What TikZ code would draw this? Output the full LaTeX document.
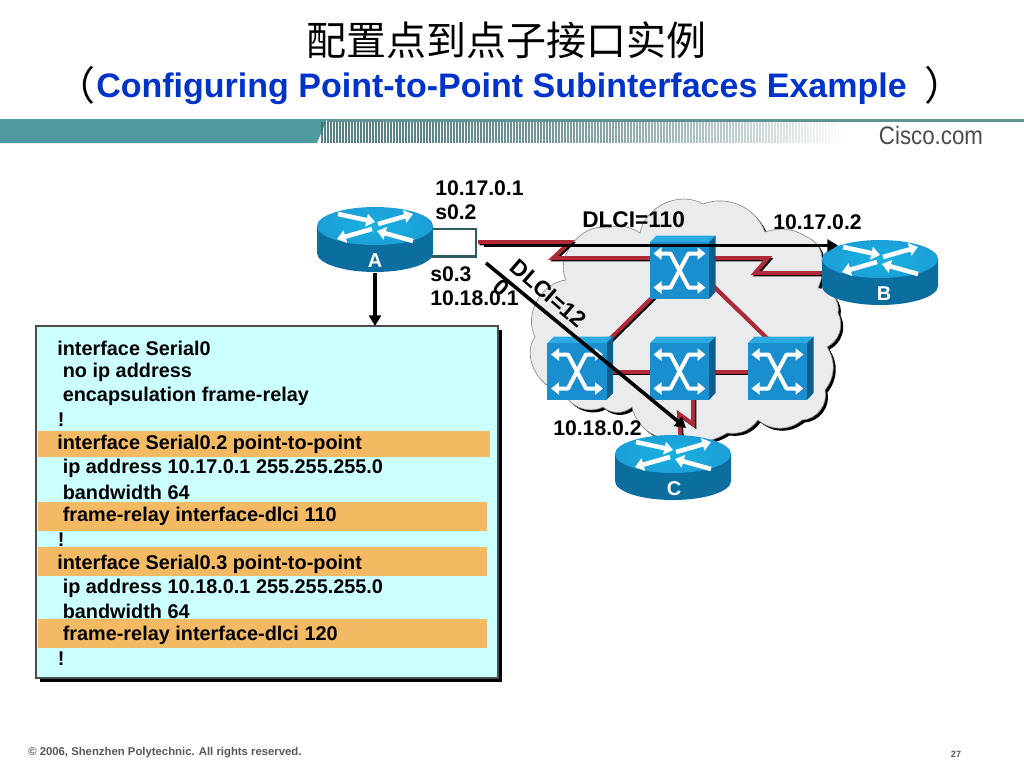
\documentclass[tikz,border=0pt]{standalone}
\usepackage{fontspec}
\setmainfont{Liberation Sans}
\newfontfamily\cjkfont{Noto Sans CJK SC}
\usetikzlibrary{arrows.meta,calc}
\definecolor{teal1}{HTML}{4F9A9F}
\definecolor{cboxfill}{HTML}{CCFFFF}
\definecolor{orangeband}{HTML}{F4B963}
\definecolor{redlink}{HTML}{B0293A}
\definecolor{cloudfill}{HTML}{E9EBED}
\definecolor{titleblue}{HTML}{0033CC}
\definecolor{rtop}{HTML}{1C9FD8}
\definecolor{rside}{HTML}{0F86BA}
\definecolor{rdark}{HTML}{0C6E9E}
\definecolor{swfront}{HTML}{1A8FCF}
\definecolor{swtop}{HTML}{2BABE3}
\definecolor{swside}{HTML}{0D5E8C}
\tikzset{
  lbl/.style={font=\bfseries\fontsize{15.9}{18}\selectfont,inner sep=0pt,text=black},
  dl/.style={font=\bfseries\fontsize{17}{19}\selectfont,inner sep=0pt,text=black},
  cfg/.style={font=\bfseries\fontsize{14.9}{18}\selectfont,inner sep=0pt,anchor=west,text=black},
  band/.style={fill=orangeband,draw=none},
  redlinkline/.style={draw=redlink,line width=3pt,miter limit=10,
     preaction={draw=black,line width=2.6pt,transform canvas={shift={(1.2pt,-1.3pt)}}}},
  blackarrow/.style={draw=black,line width=2.7pt,-{Triangle[length=8pt,width=9pt]}},
  routerbody/.style={minimum width=87pt,minimum height=49pt,inner sep=0pt,draw=none},
  routerlabel/.style={font=\bfseries\fontsize{15}{18}\selectfont,text=white,inner sep=0pt},
  swbody/.style={minimum width=44.5pt,minimum height=43pt,inner sep=0pt,draw=none,fill=swfront},
  iconarrow/.style={draw=white,line width=3.4pt,-{Triangle[length=6.5pt,width=9.5pt]}},
  swarrow/.style={draw=white,line width=3pt,{Triangle[length=6pt,width=9pt]}-{Triangle[length=6pt,width=9pt]},line join=round},
}
\newcommand{\routerpic}[5]{% name, x, y(top ellipse centre), label, label dx
  \begin{scope}[shift={(#2,#3)}]
    \shade[left color=rdark,middle color=rside,right color=rdark] (0,27) ellipse [x radius=58,y radius=19];
    \shade[left color=rdark,middle color=rside,right color=rdark] (-58,0) rectangle (58,27);
    \shade[inner color=rtop!80!cyan,outer color=rtop] (0,0) ellipse [x radius=58,y radius=19];
    \draw[iconarrow] (-37,-12) -- (0,-4);
    \draw[iconarrow] (3,-2) -- (38,-12);
    \draw[iconarrow] (-3,3) -- (-38,13);
    \draw[iconarrow] (38,15) -- (2,5);
    \node[routerbody] (#1) at (0,14) {};
    \node[routerlabel] (#1label) at (#5,34.5) {#4};
  \end{scope}
}
\newcommand{\switchpic}[3]{% name, x, y (centre of front)
  \begin{scope}[shift={(#2,#3)}]
    \fill[swtop] (-29.5,-28.5) -- (-23,-35) -- (36,-35) -- (29.5,-28.5) -- cycle;
    \fill[swside] (29.5,-28.5) -- (36,-35) -- (36,21.5) -- (29.5,28.5) -- cycle;
    \node[swbody] (#1) at (0,0) {};
    \draw[swarrow] (-26,-17) -- (-9,-17) -- (9,17) -- (26,17);
    \draw[swarrow] (26,-17) -- (9,-17) -- (-9,17) -- (-26,17);
  \end{scope}
}
\newcommand{\cloudpath}{
  (566,280) to[bend left=65] (607,228) to[bend left=25] (640,233) to[bend left=55] (703,204)
  to[bend left=45] (765,232) to[bend left=25] (807,237) to[bend left=35] (822,262)
  to[bend left=15] (818,288) to[bend left=50] (838,313) to[bend left=45] (827,347)
  to[bend left=35] (825,390) to[bend left=50] (802,420) to[bend left=40] (758,420)
  to[bend left=30] (727,433) to[bend left=25] (680,438) to[bend left=45] (632,407)
  to[bend left=40] (603,407) to[bend left=50] (563,390) to[bend left=65] (535,337)
  to[bend left=55] (566,280) -- cycle}
\begin{document}
\begin{tikzpicture}[x=0.75pt,y=-0.75pt]
\useasboundingbox (0,0) rectangle (1024,768);
\fill[white] (0,0) rectangle (1024,768);

% title
\node[font=\cjkfont\fontsize{30}{34}\selectfont,inner sep=0pt] (title1) at (506,40) {配置点到点子接口实例};
\node[font=\bfseries\fontsize{25.5}{28}\selectfont,text=titleblue,inner sep=0pt] (title2) at (501.5,88.5) {Configuring Point-to-Point Subinterfaces Example};
\node[font=\cjkfont\fontsize{30}{34}\selectfont,inner sep=0pt,anchor=east] (paren1) at (96,85) {（};
\node[font=\cjkfont\fontsize{30}{34}\selectfont,inner sep=0pt,anchor=west] (paren2) at (924,85) {）};

% header band
\fill[teal1] (0,119) -- (327,119) -- (317,143) -- (0,143) -- cycle;
\fill[teal1!70!gray] (327,119) rectangle (1024,122);
\foreach \i in {0,...,175}{
  \pgfmathsetmacro{\sx}{321+3*\i}
  \pgfmathsetmacro{\op}{max(0,0.85-(\i/175)^2*0.85)}
  \fill[teal1!70!black,opacity=\op] (\sx,122) rectangle ++(1.6,21);
}
\node[font=\fontsize{19}{22}\selectfont,text=black!70,inner sep=0pt,xscale=0.88] (cisco) at (931,135) {Cisco.com};

% cloud
\fill[black,shift={(2.5,2.5)}] \cloudpath;
\filldraw[fill=cloudfill,draw=black!45,line width=0.5pt] \cloudpath;

% interface box
\filldraw[fill=white,draw=teal1!60!black,line width=1.6pt] (425,229) rectangle (476,256.5);

% named link ends
\coordinate (s02) at (478,242);
\coordinate (s02b) at (570,242);
\coordinate (s02c) at (553,258);
\coordinate (sw1in) at (660,258);
\coordinate (sw1out) at (700,258);
\coordinate (bz1) at (768,258);
\coordinate (bz2) at (755,273);
\coordinate (bin) at (835,273);
\coordinate (ca) at (693,395);
\coordinate (cb) at (693,424);
\coordinate (cc) at (679,414);
\coordinate (cd) at (681,445);
\coordinate (sw1r) at (700,273);
\coordinate (sw4t) at (772,343);

\path (679.5,270.5) node[minimum size=1pt,inner sep=0pt] (sw1n) {} (577,371.5) node[minimum size=1pt,inner sep=0pt] (sw2n) {} (679.5,371.5) node[minimum size=1pt,inner sep=0pt] (sw3n) {} (777.5,371.5) node[minimum size=1pt,inner sep=0pt] (sw4n) {};

% red links
\draw[redlinkline] (s02) -- (s02b) -- (s02c) -- (sw1in);
\draw[redlinkline] (sw1out) -- (bz1) -- (bz2) -- (bin);
\draw[redlinkline] (sw1n.center) -- (sw2n.center);
\draw[redlinkline] (sw1r) -- (sw4t);
\draw[redlinkline] (sw2n.center) -- (sw3n.center);
\draw[redlinkline] (sw3n.center) -- (sw4n.center);
\draw[redlinkline] (ca) -- (cb) -- (cc) -- (cd);

\switchpic{sw1}{679.5}{270.5}
\switchpic{sw2}{577}{371.5}
\switchpic{sw3}{679.5}{371.5}
\switchpic{sw4}{777.5}{371.5}

\routerpic{A}{375}{226}{A}{0}
\routerpic{B}{880}{259}{B}{4}
\routerpic{C}{673}{454}{C}{1}

% config box
\fill[black] (40,330) rectangle (502,682);
\filldraw[fill=cboxfill,draw=black!70,line width=0.8pt] (36,326) rectangle (498,678);
\coordinate (boxtop) at (375,326);
\fill[band] (38,431) rectangle (490,457);
\fill[band] (38,502) rectangle (487,530.5);
\fill[band] (38,547) rectangle (487,575.5);
\fill[band] (38,619) rectangle (487,648);
\node[cfg] (l1) at (57,348) {interface Serial0};
\node[cfg] (l2) at (62.5,372) {no ip address};
\node[cfg] (l3) at (62.5,396) {encapsulation frame-relay};
\node[cfg] (l4) at (57.5,420) {!};
\node[cfg] (l5) at (57,444) {interface Serial0.2 point-to-point};
\node[cfg] (l6) at (62.5,468) {ip address 10.17.0.1 255.255.255.0};
\node[cfg] (l7) at (62.5,492) {bandwidth 64};
\node[cfg] (l8) at (62.5,516) {frame-relay interface-dlci 110};
\node[cfg] (l9) at (57.5,540) {!};
\node[cfg] (l10) at (57,564) {interface Serial0.3 point-to-point};
\node[cfg] (l11) at (62.5,588) {ip address 10.18.0.1 255.255.255.0};
\node[cfg] (l12) at (62.5,611.5) {bandwidth 64};
\node[cfg] (l13) at (62.5,635.5) {frame-relay interface-dlci 120};
\node[cfg] (l14) at (57.5,659) {!};

% black arrows
\coordinate (s02k) at (484,245.5);
\coordinate (btip) at (838,245.5);
\coordinate (s03k) at (486,263);
\coordinate (ctip) at (686,428);
\draw[blackarrow] (A.south) -- (boxtop);
\draw[blackarrow] (s02k) -- (btip);
\draw[blackarrow] (s03k) -- (ctip);

% labels
\node[lbl,anchor=west] (t1) at (435,188) {10.17.0.1};
\node[lbl,anchor=west] (t2) at (435,212) {s0.2};
\node[lbl,anchor=west] (t3) at (430,274) {s0.3};
\node[lbl,anchor=west] (t4) at (430,298) {10.18.0.1};
\node[dl,anchor=west] (t5) at (582,220) {DLCI=110};
\node[lbl,anchor=west] (t6) at (773,222) {10.17.0.2};
\node[lbl,anchor=west] (t7) at (553,428) {10.18.0.2};
\node[dl,anchor=north west,align=left,rotate=-41] (t8) at (519,257) {DLCI=12\\[1pt]0};

% footer
\node[font=\bfseries\fontsize{8.5}{10}\selectfont,text=black!65,inner sep=0pt,anchor=west] (foot) at (28,753) {© 2006, Shenzhen Polytechnic. All rights reserved.};
\node[font=\bfseries\fontsize{6.8}{8}\selectfont,text=black!65,inner sep=0pt] (page) at (956,754) {27};
\end{tikzpicture}
\end{document}
